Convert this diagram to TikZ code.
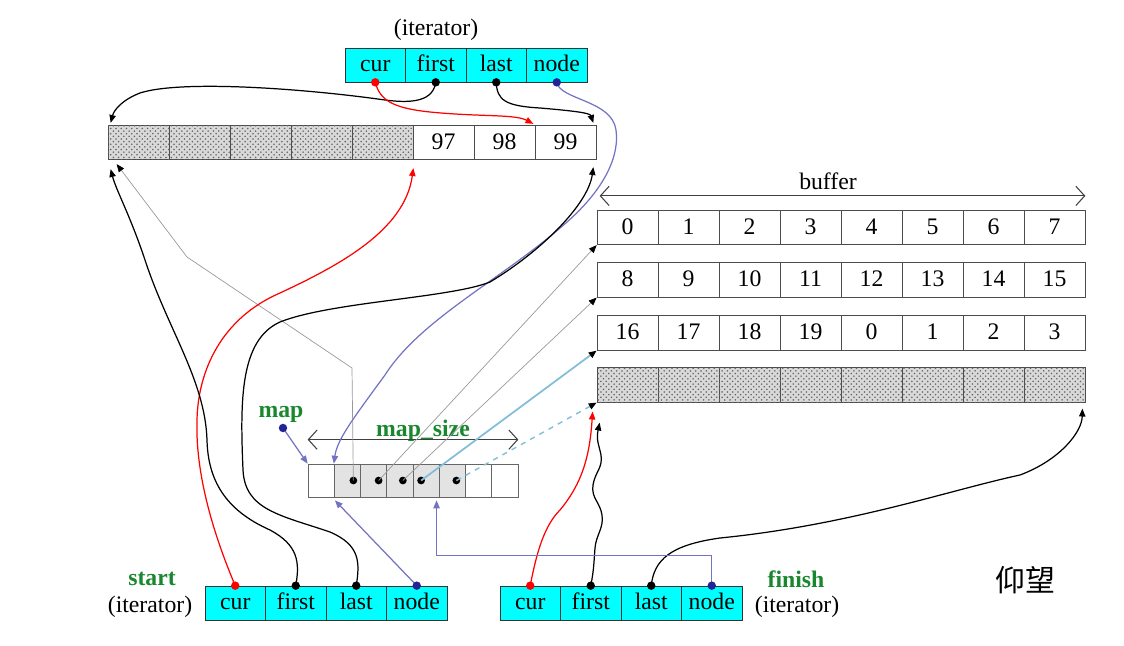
\documentclass[tikz,border=0pt]{standalone}
\usepackage{fontspec}
\setmainfont{Liberation Serif}
\newfontfamily\cjkfont{Noto Sans CJK SC}
\usepackage{xcolor}
\usepackage{tikz}
\usetikzlibrary{arrows.meta,patterns,calc}

\definecolor{itcyan}{RGB}{0,255,255}
\definecolor{lblgreen}{RGB}{25,135,45}
\definecolor{ptrblue}{RGB}{115,115,195}
\definecolor{dotblue}{RGB}{35,35,150}
\definecolor{mapblue}{RGB}{130,190,215}

\tikzset{
  txt/.style={font=\fontsize{13.5}{15}\selectfont},
  lbl/.style={text=lblgreen, font=\fontsize{13.5}{15}\selectfont\bfseries},
  itcell/.style={draw=black!80, fill=itcyan, minimum width=1.21cm, minimum height=0.68cm, inner sep=0pt,
    text height=1.9ex, text depth=0.2ex, txt},
  bufcell/.style={draw=black!70, fill=white, minimum width=1.22cm, minimum height=0.69cm, inner sep=0pt,
    text height=1.9ex, text depth=0.2ex, txt},
  hatch/.style={bufcell, fill=gray!30, postaction={pattern=crosshatch dots, pattern color=black!60}},
  mapcell/.style={draw=black!60, minimum width=0.525cm, minimum height=0.66cm, inner sep=0pt},
  ptr/.style={line width=0.7pt, -{Triangle[length=4.5pt,width=3.6pt]}},
  thinptr/.style={gray!80, line width=0.4pt, -{Triangle[length=4.5pt,width=3.6pt,color=black]}},
  span/.style={black!75, line width=0.6pt, {Straight Barb[length=5pt,width=11pt]}-{Straight Barb[length=5pt,width=11pt]}},
}

\begin{document}
\begin{tikzpicture}[x=0.02cm, y=-0.02cm]
  \useasboundingbox (0,0) rectangle (1124,645);
  % iterators: top, start, finish
  \node[txt] (ttitle) at (436,30) {(iterator)};
  \foreach \f [count=\i from 0] in {cur,first,last,node} {
    \node[itcell] (t\f) at ({375.25+60.5*\i},65) {\f};
    \node[itcell] (s\f) at ({235.25+60.5*\i},603) {\f};
    \node[itcell] (f\f) at ({530.25+60.5*\i},603) {\f};
  }
  \node[lbl] (slbl) at (152,579) {start};
  \node[txt] (siter) at (150,607) {(iterator)};
  \node[lbl] (flbl) at (796,579) {finish};
  \node[txt] (fiter) at (797,607) {(iterator)};
  % top buffer
  \foreach \i in {1,...,5}
    \node[hatch] (tb\i) at ({138.5+61*(\i-1)},142.5) {};
  \foreach \v [count=\i from 6] in {97,98,99}
    \node[bufcell] (tb\i) at ({138.5+61*(\i-1)},142.5) {\v};
  % buffer rows
  \foreach \v [count=\i] in {0,...,7}
    \node[bufcell] (r0c\i) at ({627.5+61*(\i-1)},227.5) {\v};
  \foreach \v [count=\i] in {8,...,15}
    \node[bufcell] (r1c\i) at ({627.5+61*(\i-1)},280) {\v};
  \foreach \v [count=\i] in {16,17,18,19,0,1,2,3}
    \node[bufcell] (r2c\i) at ({627.5+61*(\i-1)},333) {\v};
  \foreach \i in {1,...,8}
    \node[hatch] (r3c\i) at ({627.5+61*(\i-1)},385) {};
  \node[txt] (buflbl) at (828,181) {buffer};
  \draw[span] ($(r0c1.north west)+(3,-14)$) -- ($(r0c8.north east)+(0,-14)$);
  % map
  \foreach \i in {1,...,8}
    \node[mapcell] (m\i) at ({321.1+26.25*(\i-1)},480.5) {};
  \foreach \i in {2,...,6}
    \fill[gray!22] ($(m\i.south west)+(0.5,-0.5)$) rectangle ($(m\i.north east)+(-0.5,0.5)$);
  \foreach \i in {1,...,8}
    \node[mapcell] at (m\i) {};
  \foreach \k/\dx in {2/6,3/5,4/3,5/-5,6/4} {
    \coordinate (d\k) at ($(m\k)+(\dx,0)$);
    \fill (d\k) circle (2.2pt);
  }
  \node[lbl] (maplbl) at (281,414) {map};
  \coordinate (mapdot) at (283,428);
  \node[lbl] (sizelbl) at (423,431) {map\_size};
  \draw[span] ($(m1.north west)+(0,-24)$) -- ($(m8.north east)+(0,-24)$);
  % map -> buffers
  \draw[thinptr] (d2) -- (352,368) -- (187,257) -- ($(tb1.south west)+(9,4)$);
  \draw[thinptr] (d3) -- (r0c1.south west);
  \draw[thinptr] (d4) -- (r1c1.south west);
  \draw[thinptr, mapblue, line width=1pt] (d5) -- (r2c1.south west);
  \draw[thinptr, mapblue, line width=0.8pt, dashed] (d6) -- (r3c1.south west);
  \draw[ptr, ptrblue] (mapdot) -- (m1.north west);
  % top iterator
  \draw[ptr, black] (tfirst.south) .. controls (433,100) and (415,104) .. (385,100)
    .. controls (300,88) and (180,80) .. (140,93)
    .. controls (122,100) and (114,110) .. ($(tb1.north west)+(3,-2)$);
  \draw[ptr, red] (tcur.south) .. controls (380,100) and (392,108) .. (430,112)
    .. controls (480,117) and (515,114) .. ($(tb7.north east)+(-2,-1)$);
  \draw[ptr, black] (tlast.south) .. controls (497,100) and (505,106) .. (540,108)
    .. controls (575,111) and (590,113) .. ($(tb8.north east)+(-3,-2)$);
  \draw[ptr, ptrblue] (tnode.south) .. controls (560,100) and (612,100) .. (616,130)
    .. controls (620,160) and (600,195) .. (560,228)
    .. controls (500,280) and (420,320) .. (385,375)
    .. controls (352,420) and (337,440) .. (m2.north west);
  % start iterator
  \draw[ptr, red] (scur.north) .. controls (218,545) and (195,480) .. (197,420)
    .. controls (198,370) and (222,318) .. (280,293)
    .. controls (340,265) and (405,230) .. ($(tb5.south east)+(0,8)$);
  \draw[ptr, black] (sfirst.north) .. controls (300,562) and (298,545) .. (270,530)
    .. controls (225,510) and (208,480) .. (207,440)
    .. controls (205,380) and (168,330) .. (145,260)
    .. controls (130,215) and (116,190) .. ($(tb1.south west)+(3,9)$);
  \draw[ptr, black] (slast.north) .. controls (360,562) and (360,545) .. (330,532)
    .. controls (280,515) and (245,510) .. (243,470)
    .. controls (240,400) and (240,340) .. (280,322)
    .. controls (330,302) and (450,298) .. (490,282)
    .. controls (540,252) and (588,205) .. ($(tb8.south east)+(-3,7)$);
  \draw[ptr, ptrblue] (snode.north) -- ($(m2.south west)+(1,3)$);
  % finish iterator
  \draw[ptr, red] (fcur.north) .. controls (537,550) and (545,525) .. (560,510)
    .. controls (585,480) and (590,450) .. ($(r3c1.south west)+(-4,9)$);
  \draw[ptr, black] (ffirst.north) .. controls (594,570) and (594,560) .. (595,548)
    .. controls (596,535) and (604,528) .. (602,515)
    .. controls (600,502) and (591,498) .. (593,485)
    .. controls (595,472) and (603,468) .. (601,455)
    .. controls (599,445) and (596,440) .. ($(r3c1.south west)+(3,20)$);
  \draw[ptr, black] (flast.north) .. controls (654,560) and (670,545) .. (720,538)
    .. controls (850,525) and (950,490) .. (1020,475)
    .. controls (1060,460) and (1082,432) .. ($(r3c8.south east)+(-3,6)$);
  \draw[ptr, ptrblue] (fnode.north) -- ++(0,-30) -| ($(m5.south east)+(-3,3)$);
  % pointer dots
  \foreach \n/\c in {tcur/red,tfirst/black,tlast/black,tnode/dotblue}
    \fill[\c] (\n.south) circle (2.4pt);
  \foreach \n/\c in {scur/red,sfirst/black,slast/black,snode/dotblue,
                     fcur/red,ffirst/black,flast/black,fnode/dotblue}
    \fill[\c] (\n.north) circle (2.4pt);
  \fill[dotblue] (mapdot) circle (2.4pt);
  % signature
  \node[font=\cjkfont\fontsize{17}{19}\selectfont] (sign) at (1025,580) {仰望};
\end{tikzpicture}
\end{document}
